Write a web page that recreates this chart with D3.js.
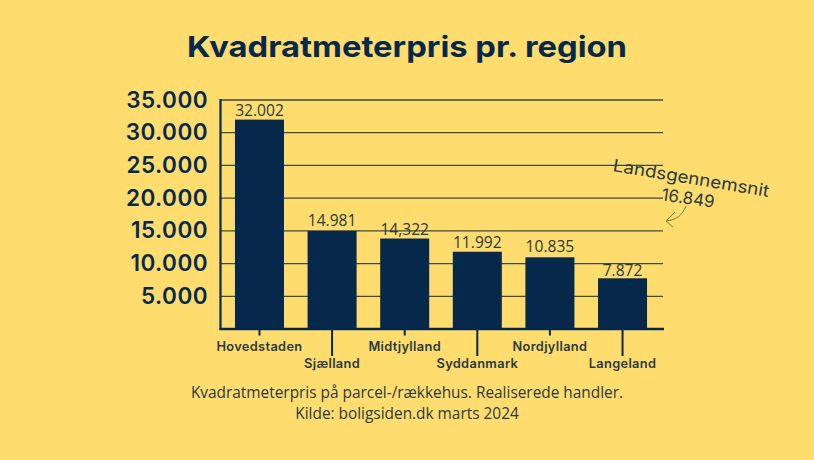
<![CDATA[<!DOCTYPE html>
<html><head><meta charset="utf-8">
<script src="https://cdn.jsdelivr.net/npm/d3@7"></script>
<style>html,body{margin:0;padding:0;background:#FFDC6E}svg{display:block}text{font-family:Inter,sans-serif}</style>
</head><body><svg id="c" width="814" height="460"></svg>
<script>
const categories=["Hovedstaden","Sjælland","Midtjylland","Syddanmark","Nordjylland","Langeland"];
const barValues=[32002,14981,13830,11810,10960,7750];
const valueLabels=["32.002","14.981","14,322","11.992","10.835","7.872"];
const yTicks=[5000,10000,15000,20000,25000,30000,35000];
const title="Kvadratmeterpris pr. region";
const footnotes=["Kvadratmeterpris på parcel-/rækkehus. Realiserede handler.","Kilde: boligsiden.dk marts 2024"];
const avgLabel=["Landsgennemsnit","16.849"];
const navy="#06294B",ink="#2A3A3F",grid="#3C4A45";
const body='"Open Sans",sans-serif';
const svg=d3.select("#c");
const y=d3.scaleLinear().domain([0,35000]).range([329,100]);
const x=d3.scaleBand().domain(categories).range([223.2,658.8]).paddingInner(0.325).paddingOuter(0.162);
const fmt=d=>d3.format(",")(d).replace(/,/g,".");
const labelGap=[3.8,5,3.5,4,5,1.8];
svg.append("text").attr("x",187).attr("y",57).attr("font-size",29).attr("font-weight",700).attr("fill",navy)
  .attr("textLength",440).attr("lengthAdjust","spacingAndGlyphs").text(title);
const gy=svg.append("g");
gy.selectAll("line").data(yTicks).join("line").attr("x1",220).attr("x2",663).attr("y1",d=>y(d)).attr("y2",d=>y(d)).attr("stroke",grid).attr("stroke-width",1.3);
gy.selectAll("text").data(yTicks).join("text").attr("x",208).attr("y",d=>y(d)+7.5).attr("text-anchor","end").attr("font-size",22.5).attr("font-weight",600).attr("letter-spacing",0.45).attr("fill",navy).text(fmt);
svg.append("g").selectAll("rect").data(barValues).join("rect").attr("x",(d,i)=>x(categories[i])).attr("width",x.bandwidth()).attr("y",d=>y(d)).attr("height",d=>y(0)-y(d)).attr("fill",navy);
svg.append("g").selectAll("text").data(barValues).join("text").attr("x",(d,i)=>x(categories[i])+x.bandwidth()/2).attr("y",(d,i)=>y(d)-labelGap[i]).attr("text-anchor","middle").attr("font-size",15.6).attr("fill",ink).style("font-family",body).text((d,i)=>valueLabels[i]);
svg.append("line").attr("x1",220.5).attr("x2",220.5).attr("y1",99).attr("y2",330).attr("stroke",navy).attr("stroke-width",2.2);
svg.append("line").attr("x1",219.5).attr("x2",664).attr("y1",329).attr("y2",329).attr("stroke",navy).attr("stroke-width",2.4);
const gx=svg.append("g");
gx.selectAll("line").data(categories).join("line").attr("x1",d=>x(d)+x.bandwidth()/2).attr("x2",d=>x(d)+x.bandwidth()/2).attr("y1",329).attr("y2",(d,i)=>i%2?356:335.5).attr("stroke",navy).attr("stroke-width",2);
gx.selectAll("text").data(categories).join("text").attr("x",d=>x(d)+x.bandwidth()/2).attr("y",(d,i)=>i%2?368:351).attr("text-anchor","middle").attr("font-size",12.8).attr("font-weight",600).attr("letter-spacing",0.35).attr("fill",ink).text(d=>d);
svg.append("g").selectAll("text").data(footnotes).join("text").attr("x",407).attr("y",(d,i)=>397.5+i*21.5).attr("text-anchor","middle").attr("font-size",15.4).attr("fill",ink).style("font-family",body).text(d=>d);
const a=svg.append("g").attr("fill",ink);
a.append("text").attr("x",691).attr("y",184).attr("text-anchor","middle").attr("font-size",17).attr("textLength",158).attr("lengthAdjust","spacingAndGlyphs").attr("transform","rotate(9.5 691 179)").text(avgLabel[0]);
a.append("text").attr("x",688).attr("y",204).attr("text-anchor","middle").attr("font-size",17).attr("textLength",53).attr("lengthAdjust","spacingAndGlyphs").attr("transform","rotate(8 688 199)").text(avgLabel[1]);
svg.append("path").attr("d","M686 206C682 216 676 220 666 221M675 212L666 221L673 227").attr("fill","none").attr("stroke","#7A7440").attr("stroke-width",1);
</script></body></html>]]>
